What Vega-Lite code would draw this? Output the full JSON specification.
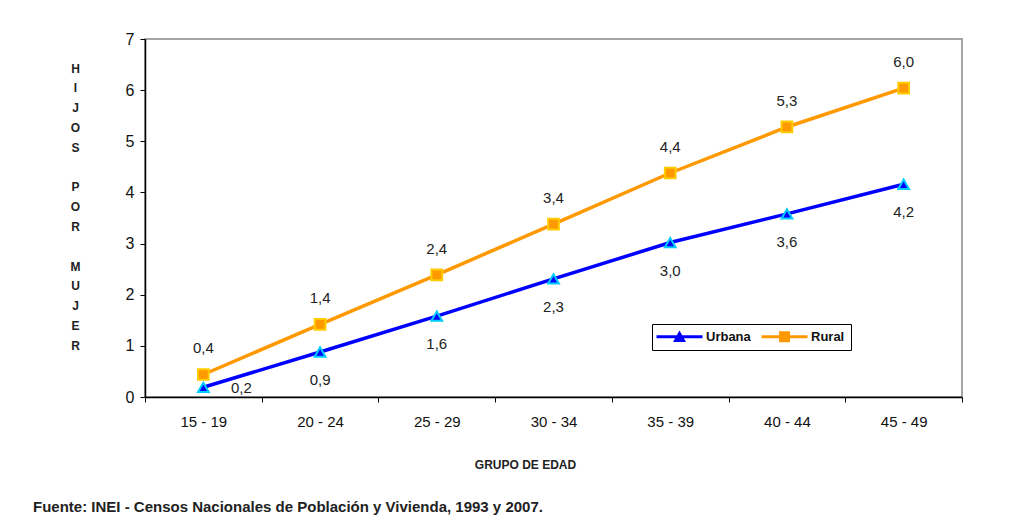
{
  "$schema": "https://vega.github.io/schema/vega-lite/v6.json",
  "width": 817,
  "height": 358,
  "autosize": {"type": "none"},
  "padding": {"left": 145, "top": 39, "right": 47, "bottom": 125},
  "background": "white",
  "title": {
    "text": "Fuente: INEI - Censos Nacionales de Población y Vivienda, 1993 y 2007.",
    "orient": "bottom",
    "anchor": "start",
    "frame": "group",
    "dx": -112,
    "offset": 30,
    "font": "Liberation Sans",
    "fontSize": 15,
    "fontWeight": "bold",
    "color": "#222222"
  },
  "config": {
    "locale": {"number": {"decimal": ",", "thousands": ".", "grouping": [3], "currency": ["", ""]}},
    "view": {"stroke": "#888888", "strokeWidth": 1.5},
    "font": "Liberation Sans"
  },
  "data": {
    "values": [
      {"grupo": "15 - 19", "serie": "Urbana", "valor": 0.19},
      {"grupo": "20 - 24", "serie": "Urbana", "valor": 0.88},
      {"grupo": "25 - 29", "serie": "Urbana", "valor": 1.58},
      {"grupo": "30 - 34", "serie": "Urbana", "valor": 2.31},
      {"grupo": "35 - 39", "serie": "Urbana", "valor": 3.02},
      {"grupo": "40 - 44", "serie": "Urbana", "valor": 3.58},
      {"grupo": "45 - 49", "serie": "Urbana", "valor": 4.16},
      {"grupo": "15 - 19", "serie": "Rural", "valor": 0.44},
      {"grupo": "20 - 24", "serie": "Rural", "valor": 1.42},
      {"grupo": "25 - 29", "serie": "Rural", "valor": 2.39},
      {"grupo": "30 - 34", "serie": "Rural", "valor": 3.38},
      {"grupo": "35 - 39", "serie": "Rural", "valor": 4.38},
      {"grupo": "40 - 44", "serie": "Rural", "valor": 5.28},
      {"grupo": "45 - 49", "serie": "Rural", "valor": 6.04}
    ]
  },
  "encoding": {
    "x": {
      "field": "grupo",
      "type": "ordinal",
      "sort": null,
      "scale": {"paddingInner": 0, "paddingOuter": 0},
      "axis": {
        "title": "GRUPO DE EDAD",
        "titleFont": "Liberation Sans",
        "titleFontSize": 12,
        "titleFontWeight": "bold",
        "titleColor": "#222222",
        "titlePadding": 30,
        "titleX": 380,
        "labelAngle": 0,
        "labelFontSize": 15,
        "labelColor": "#111111",
        "labelPadding": 12,
        "domainColor": "#000000",
        "domainWidth": 1.5,
        "tickColor": "#000000",
        "tickSize": 5,
        "tickBand": "extent",
        "grid": false
      }
    },
    "y": {
      "field": "valor",
      "type": "quantitative",
      "scale": {"domain": [0, 7], "nice": false},
      "axis": {
        "values": [0, 1, 2, 3, 4, 5, 6, 7],
        "title": ["H", "I", "J", "O", "S", "\u2800", "P", "O", "R", "\u2800", "M", "U", "J", "E", "R"],
        "titleAngle": 0,
        "titleAlign": "center",
        "titleBaseline": "top",
        "titleX": -70,
        "titleY": 24,
        "titleLineHeight": 19.8,
        "titleFont": "Liberation Sans",
        "titleFontSize": 12,
        "titleFontWeight": "bold",
        "titleColor": "#222222",
        "labelFontSize": 16,
        "labelColor": "#111111",
        "labelPadding": 6,
        "domainColor": "#000000",
        "domainWidth": 1.5,
        "tickColor": "#000000",
        "tickSize": 5,
        "grid": false
      }
    }
  },
  "layer": [
    {
      "mark": {"type": "line", "strokeWidth": 3.5},
      "encoding": {
        "color": {
          "field": "serie",
          "type": "nominal",
          "scale": {"domain": ["Urbana", "Rural"], "range": ["#0000FF", "#FF9900"]},
          "legend": {
            "title": null,
            "orient": "none",
            "legendX": 507,
            "legendY": 285,
            "direction": "horizontal",
            "strokeColor": "#000000",
            "padding": 6,
            "labelFont": "Liberation Sans",
            "labelFontSize": 13,
            "labelFontWeight": "bold",
            "labelColor": "#111111",
            "symbolSize": 100,
            "symbolType": "square",
            "symbolStrokeWidth": 0,
            "symbolOffset": 15,
            "labelOffset": 20,
            "columnPadding": 10,
            "encode": {
              "symbols": {
                "update": {
                  "shape": {"signal": "datum.value == 'Urbana' ? 'M-4.6,-0.3H4.6V0.3H-4.6Z M0,-1.25L1.3,1.05H-1.3Z' : 'M-4.6,-0.3H4.6V0.3H-4.6Z M-1.1,-1.1H1.1V1.1H-1.1Z'"},
                  "fill": {"signal": "datum.value == 'Urbana' ? '#0000FF' : '#FF9900'"},
                  "strokeWidth": {"value": 0}
                }
              }
            }
          }
        }
      }
    },
    {
      "transform": [{"filter": "datum.serie == 'Urbana'"}],
      "mark": {"type": "point", "shape": "triangle-up", "filled": true, "opacity": 1, "fill": "#0000FF", "stroke": "#00CCFF", "strokeWidth": 2, "size": 115}
    },
    {
      "transform": [{"filter": "datum.serie == 'Rural'"}],
      "mark": {"type": "point", "shape": "square", "filled": true, "opacity": 1, "fill": "#FF9900", "stroke": "#FFCC00", "strokeWidth": 2, "size": 115}
    },
    {
      "transform": [{"filter": "datum.serie == 'Rural'"}],
      "mark": {"type": "text", "dy": -26, "fontSize": 15, "color": "#222222", "baseline": "middle"},
      "encoding": {"text": {"field": "valor", "type": "quantitative", "format": ".1f"}}
    },
    {
      "transform": [{"filter": "datum.serie == 'Urbana' && datum.grupo != '15 - 19'"}],
      "mark": {"type": "text", "dy": 28, "fontSize": 15, "color": "#222222", "baseline": "middle"},
      "encoding": {"text": {"field": "valor", "type": "quantitative", "format": ".1f"}}
    },
    {
      "transform": [{"filter": "datum.serie == 'Urbana' && datum.grupo == '15 - 19'"}],
      "mark": {"type": "text", "dx": 38, "dy": 1, "fontSize": 15, "color": "#222222", "baseline": "middle"},
      "encoding": {"text": {"field": "valor", "type": "quantitative", "format": ".1f"}}
    }
  ]
}
